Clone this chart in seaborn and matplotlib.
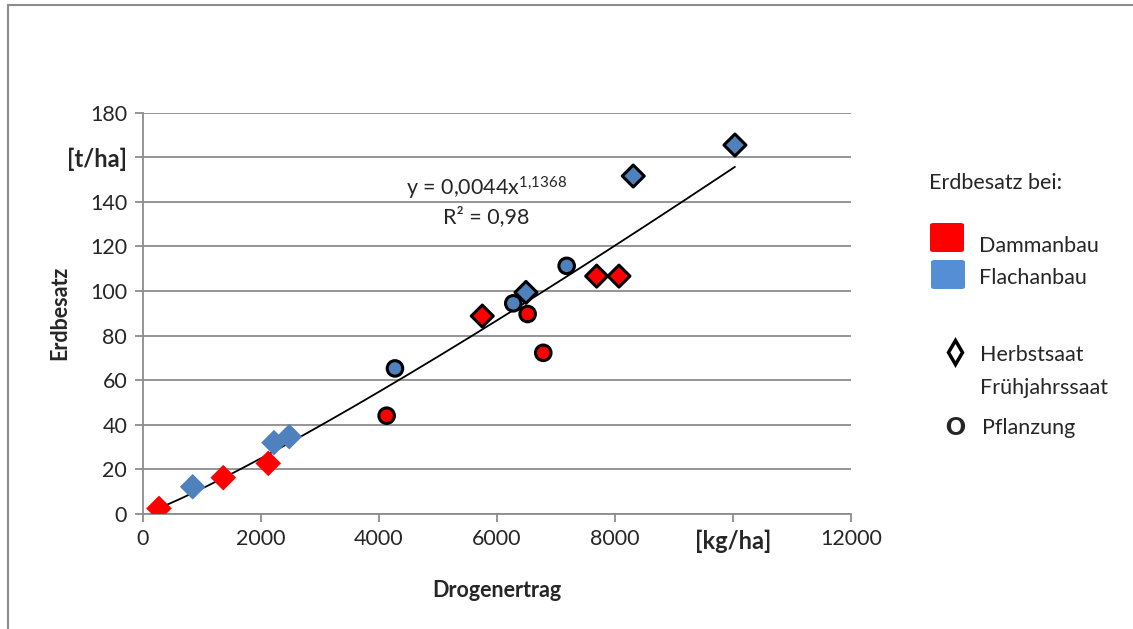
import numpy as np
import pandas as pd
import matplotlib
matplotlib.use("Agg")
import matplotlib.pyplot as plt
import seaborn as sns
from matplotlib.patches import FancyBboxPatch, Rectangle
from matplotlib.lines import Line2D

# Werte
drogenertrag = [279, 850, 1368, 2130, 2227, 2486,
                4135, 4276, 5755, 6280, 6495, 6523, 6788,
                7184, 7692, 8070, 8312, 10034]
erdbesatz = [2.5, 12.2, 16.3, 22.7, 32.0, 34.7,
             44.1, 65.3, 88.8, 94.5, 99.4, 89.7, 72.3,
             111.3, 106.7, 106.7, 151.6, 165.5]
anbau = ["Dammanbau", "Flachanbau", "Dammanbau", "Dammanbau", "Flachanbau", "Flachanbau",
         "Dammanbau", "Flachanbau", "Dammanbau", "Flachanbau", "Flachanbau", "Dammanbau", "Dammanbau",
         "Flachanbau", "Dammanbau", "Dammanbau", "Flachanbau", "Flachanbau"]
saat = ["Frühjahrssaat"] * 6 + ["Pflanzung", "Pflanzung", "Herbstsaat", "Pflanzung", "Herbstsaat",
                                "Pflanzung", "Pflanzung", "Pflanzung", "Herbstsaat", "Herbstsaat",
                                "Herbstsaat", "Herbstsaat"]

# Trendlinie (Potenzfunktion aus dem Diagramm)
a_fit = 0.0044
b_fit = 1.1368

df = pd.DataFrame({"Drogenertrag": drogenertrag, "Erdbesatz": erdbesatz,
                   "Anbau": anbau, "Saat": saat})

farben = {"Dammanbau": "#FF0000", "Flachanbau": "#4F81BD"}
marker = {"Frühjahrssaat": "D", "Herbstsaat": "D", "Pflanzung": "o"}

sns.set_theme(style="white")
plt.rcParams['font.family'] = ['Lato', 'DejaVu Sans']
plt.rcParams['mathtext.fontset'] = 'custom'
plt.rcParams['mathtext.rm'] = 'Lato'
plt.rcParams['mathtext.it'] = 'Lato'

fs = 15.5

fig = plt.figure(figsize=(11.33, 6.29), dpi=100)
ax = fig.add_axes([142.5 / 1133, 1 - 514 / 629, (851 - 142.5) / 1133, (514 - 112.7) / 629])

grau = "#8C8C8C"
ax.set_xlim(0, 12000)
ax.set_ylim(0, 180)
ax.set_yticks(np.arange(0, 181, 20))
ax.set_xticks(np.arange(0, 12001, 2000))
ax.yaxis.grid(True, color=grau, linewidth=1.3)
ax.set_axisbelow(True)
for s in ["top", "right"]:
    ax.spines[s].set_visible(False)
for s in ["left", "bottom"]:
    ax.spines[s].set_color(grau)
    ax.spines[s].set_linewidth(1.3)
ax.tick_params(axis="both", direction="out", length=6, width=1.3, color=grau,
               labelsize=fs, pad=5, left=True, bottom=True)

# Trendlinie
xs = np.linspace(min(drogenertrag), max(drogenertrag), 200)
ax.plot(xs, a_fit * xs ** b_fit, color="black", linewidth=1.3, zorder=2)

ohne = df[df["Saat"] == "Frühjahrssaat"]
mit = df[df["Saat"] != "Frühjahrssaat"]
sns.scatterplot(data=ohne, x="Drogenertrag", y="Erdbesatz", hue="Anbau", style="Saat",
                palette=farben, markers=marker, s=170, linewidth=0, legend=False,
                ax=ax, zorder=3)
sns.scatterplot(data=mit, x="Drogenertrag", y="Erdbesatz", hue="Anbau", style="Saat",
                palette=farben, markers=marker, s=125, edgecolor="black", linewidth=2.2,
                legend=False, ax=ax, zorder=3)

# Tick-Beschriftungen mit Einheiten
ylabels = [str(v) for v in range(0, 181, 20)]
ylabels[8] = "[t/ha]"
ax.set_yticklabels(ylabels)
ax.get_yticklabels()[8].set_fontweight("bold")
ax.get_yticklabels()[8].set_fontsize(fs + 1.5)
xlabels = [str(v) for v in range(0, 12001, 2000)]
xlabels[5] = "[kg/ha]"
ax.set_xticklabels(xlabels)
ax.get_xticklabels()[5].set_fontweight("bold")
ax.get_xticklabels()[5].set_fontsize(fs + 1.5)

ax.set_xlabel("Drogenertrag", fontsize=fs, fontweight="bold", labelpad=20)
ax.set_ylabel("Erdbesatz", fontsize=fs, fontweight="bold", labelpad=-2)

ax.text(0.485, 0.812, r"y = 0,0044x$^{\mathregular{1{,}1368}}$", transform=ax.transAxes,
        ha="center", va="center", fontsize=fs)
ax.text(0.485, 0.74, "R² = 0,98", transform=ax.transAxes, ha="center", va="center",
        fontsize=fs)

# Legende
def fx(px):
    return px / 1133

def fy(py):
    return 1 - py / 629

fig.text(fx(929), fy(183), "Erdbesatz bei:", fontsize=fs, va="center")
fig.add_artist(FancyBboxPatch((fx(930), fy(252)), fx(34), 29 / 629,
                              boxstyle="round,pad=0,rounding_size=0.003",
                              facecolor="#FF0000", edgecolor="none", transform=fig.transFigure))
fig.add_artist(FancyBboxPatch((fx(931), fy(289)), fx(34), 29 / 629,
                              boxstyle="round,pad=0,rounding_size=0.003",
                              facecolor="#558ED5", edgecolor="none", transform=fig.transFigure))
fig.text(fx(979), fy(246), "Dammanbau", fontsize=fs, va="center")
fig.text(fx(979), fy(278), "Flachanbau", fontsize=fs, va="center")
fig.add_artist(Line2D([fx(955)], [fy(352)], marker="d", markersize=12,
                      markerfacecolor="white", markeredgecolor="black", markeredgewidth=2.5,
                      linestyle="none", transform=fig.transFigure))
fig.text(fx(980), fy(355), "Herbstsaat", fontsize=fs, va="center")
fig.text(fx(980), fy(388), "Frühjahrssaat", fontsize=fs, va="center")
fig.text(fx(955), fy(428), "O", fontsize=fs + 2, fontweight="heavy", va="center", ha="center")
fig.text(fx(982), fy(428), "Pflanzung", fontsize=fs, va="center")

# Rahmen
fig.add_artist(Rectangle((fx(8), -0.05), 1.2, fy(5) + 0.05, fill=False,
                         edgecolor="#8C8C8C", linewidth=1.5, transform=fig.transFigure))

fig.savefig("out.png", dpi=100)
